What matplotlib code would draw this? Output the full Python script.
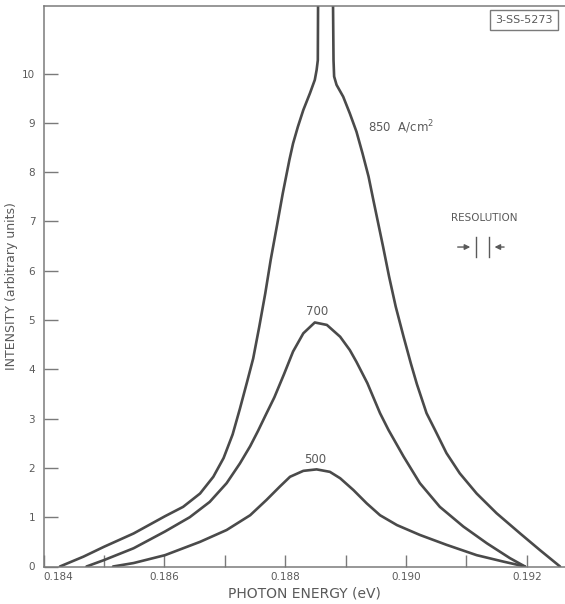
import numpy as np
import matplotlib
matplotlib.use("Agg")
import matplotlib.pyplot as plt

# photon energy (eV) and intensity, one pair of lists per current density
e_850 = [0.18427, 0.18466, 0.18500, 0.18549, 0.18601, 0.18631, 0.18659, 0.18681,
         0.18698, 0.18713, 0.18725, 0.18737, 0.18747, 0.18757, 0.18767, 0.18776,
         0.18786, 0.18796, 0.18807, 0.18813, 0.18821, 0.18830, 0.18841, 0.18849,
         0.18852, 0.18854, 0.18855, 0.18878, 0.18880, 0.18881, 0.18885, 0.18896,
         0.18907, 0.18918, 0.18928, 0.18938, 0.18946, 0.18954, 0.18962, 0.18972,
         0.18983, 0.18996, 0.19008, 0.19018, 0.19034, 0.19048, 0.19067, 0.19089,
         0.19117, 0.19150, 0.19189, 0.19222, 0.19255]
i_850 = [0, 0.20, 0.40, 0.67, 1.02, 1.21, 1.48, 1.82,
         2.20, 2.68, 3.20, 3.75, 4.22, 4.86, 5.54, 6.22,
         6.89, 7.57, 8.25, 8.58, 8.92, 9.26, 9.60, 9.87,
         10.07, 10.27, 13.0, 13.0, 10.27, 9.94, 9.77, 9.53,
         9.19, 8.82, 8.38, 7.91, 7.43, 6.96, 6.49, 5.88,
         5.27, 4.66, 4.12, 3.70, 3.11, 2.77, 2.30, 1.89,
         1.48, 1.08, 0.67, 0.33, 0]

e_700 = [0.18471, 0.18500, 0.18549, 0.18601, 0.18642, 0.18675, 0.18703, 0.18725,
         0.18742, 0.18755, 0.18768, 0.18782, 0.18798, 0.18813, 0.18830, 0.18849,
         0.18869, 0.18891, 0.18907, 0.18918, 0.18936, 0.18957, 0.18971, 0.18996,
         0.19023, 0.19056, 0.19095, 0.19134, 0.19172, 0.19197]
i_700 = [0, 0.13, 0.37, 0.71, 1.00, 1.31, 1.69, 2.09,
         2.44, 2.75, 3.08, 3.43, 3.90, 4.36, 4.73, 4.95,
         4.90, 4.66, 4.39, 4.15, 3.72, 3.11, 2.77, 2.23,
         1.69, 1.21, 0.81, 0.47, 0.17, 0]

e_500 = [0.18515, 0.18549, 0.18601, 0.18659, 0.18703, 0.18742, 0.18769, 0.18791,
         0.18808, 0.18830, 0.18852, 0.18874, 0.18891, 0.18913, 0.18935, 0.18957,
         0.18985, 0.19023, 0.19067, 0.19117, 0.19161, 0.19197]
i_500 = [0, 0.07, 0.23, 0.50, 0.74, 1.04, 1.35, 1.62,
         1.82, 1.94, 1.97, 1.92, 1.79, 1.55, 1.28, 1.04,
         0.84, 0.64, 0.44, 0.23, 0.10, 0]

x_ticks = [0.184, 0.186, 0.188, 0.190, 0.192]
x_tick_labels = ["0.184", "0.186", "0.188", "0.190", "0.192"]
x_minor = [0.185, 0.187, 0.189, 0.191]
y_ticks = list(range(0, 11))

# spectrometer resolution marker (edges in eV)
res_left, res_right = 0.19116, 0.19137

ink = "#4a4a4a"
txt = "#5a5a5a"
axc = "#7a7a7a"

fig = plt.figure(figsize=(5.65, 6.04), dpi=100)
ax = fig.add_axes([43.6 / 565, 1 - 566.5 / 604, 1 - 43.6 / 565, (566.5 - 6) / 604])

for e, i in [(e_850, i_850), (e_700, i_700), (e_500, i_500)]:
    ax.plot(e, i, color=ink, lw=1.9, solid_joinstyle="round", solid_capstyle="round")

ax.set_xlim(0.184, 0.184 + (565 - 43.6) / 60400)
ax.set_ylim(0, (566.5 - 6) / 49.3)

ax.spines["right"].set_visible(False)
for s in ["left", "bottom", "top"]:
    ax.spines[s].set_color(axc)
    ax.spines[s].set_linewidth(1.1)

ax.set_xticks(x_ticks)
ax.set_xticklabels(x_tick_labels)
ax.set_xticks(x_minor, minor=True)
ax.set_yticks(y_ticks)
ax.tick_params(axis="x", which="both", direction="in", length=8.5, width=1.0,
               color=axc, labelsize=7.5, labelcolor=txt, pad=4)
ax.tick_params(axis="y", direction="in", length=10, width=1.0,
               color=axc, labelsize=7.5, labelcolor=txt, pad=6)
ax.get_xticklabels()[0].set_horizontalalignment("left")

ax.set_xlabel("PHOTON ENERGY (eV)", fontsize=10, color=txt, labelpad=3)
ax.set_ylabel("INTENSITY (arbitrary units)", fontsize=9, color=txt)
ax.yaxis.set_label_coords((18 - 43.6) / (565 - 43.6), 0.5)

ax.text(0.18937, 8.92, "850  A/cm$^2$", fontsize=8.5, color=txt, ha="left", va="center")
ax.text(0.18853, 5.17, "700", fontsize=8.5, color=txt, ha="center", va="center")
ax.text(0.18850, 2.18, "500", fontsize=8.5, color=txt, ha="center", va="center")

ax.text(0.19129, 7.07, "RESOLUTION", fontsize=7.5, color=txt, ha="center", va="center")
ax.plot([res_left, res_left], [6.28, 6.68], color=txt, lw=1)
ax.plot([res_right, res_right], [6.28, 6.68], color=txt, lw=1)
ax.annotate("", xy=(res_left - 0.00005, 6.48), xytext=(0.19081, 6.48),
            arrowprops=dict(arrowstyle="-|>", color=txt, lw=1, mutation_scale=8))
ax.annotate("", xy=(res_right + 0.00005, 6.48), xytext=(0.19167, 6.48),
            arrowprops=dict(arrowstyle="-|>", color=txt, lw=1, mutation_scale=8))

fig.text(524 / 565, 1 - 20 / 604, "3-SS-5273", fontsize=8, color=txt,
         ha="center", va="center",
         bbox=dict(boxstyle="square,pad=0.45", fc="white", ec=axc, lw=1))

fig.savefig("out.png", dpi=100)
